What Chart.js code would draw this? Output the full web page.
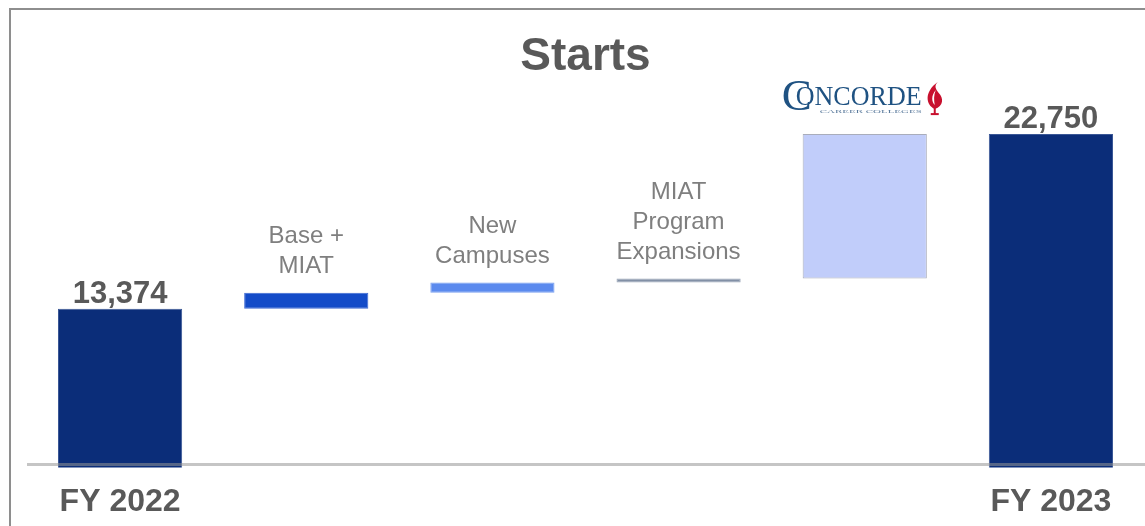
<!DOCTYPE html>
<html>
<head>
<meta charset="utf-8">
<title>Starts</title>
<script src="https://cdn.jsdelivr.net/npm/chart.js@4.4.0/dist/chart.umd.min.js"></script>
<style>
  html, body { margin: 0; padding: 0; background: #fff; overflow: hidden; }
  #wrap { position: relative; width: 1145px; height: 526px; overflow: hidden; }
  #frame { position: absolute; left: 9px; top: 8px; right: -10px; bottom: -10px;
           border-left: 2px solid #8e8e8e; border-top: 2px solid #8e8e8e; }
  #startsChart { position: absolute; left: 0; top: 0; }
</style>
</head>
<body>
<div id="wrap">
  <div id="frame"></div>
  <canvas id="startsChart" width="1145" height="544"></canvas>
</div>
<script>
// categories and values
const categories = ['FY 2022', 'Base + MIAT', 'New Campuses', 'MIAT Program Expansions', 'Concorde', 'FY 2023'];
const startTotal = 13374;
const changes = [860, 540, 215, 7761];
const endTotal = 22750;
const tickLabels = ['FY 2022', '', '', '', '', 'FY 2023'];
const valueLabels = ['13,374', '', '', '', '', '22,750'];
const barNotes = [[], ['Base +', 'MIAT'], ['New', 'Campuses'], ['MIAT', 'Program', 'Expansions'], [], []];

const barColors = ['#0b2d79', '#134bc8', '#5b8aee', '#8290a6', '#c1cdfa', '#0b2d79'];
const barBorders = ['#3a5796', '#3d68d2', '#7aa0f0', '#9aa6b8', '#a9adbb', '#3a5796'];

// build the floating ranges of the waterfall
const ranges = [[0, startTotal]];
let running = startTotal;
changes.forEach(c => {
    ranges.push([running, running + c]);
    running += c;
});
ranges.push([0, endTotal]);

function drawLogo(ctx, cx, ctop) {
    ctx.save();
    ctx.textAlign = 'left';
    ctx.textBaseline = 'alphabetic';
    ctx.fillStyle = '#1f5282';
    ctx.font = '45px "Liberation Serif", serif';
    ctx.fillText('C', cx - 83, ctop - 24);

    ctx.save();
    ctx.translate(cx - 69, ctop - 29);
    ctx.scale(0.93, 1);
    ctx.font = '28px "Liberation Serif", serif';
    ctx.fillText('ONCORDE', 0, 0);
    ctx.restore();

    ctx.save();
    ctx.font = '5px "Liberation Serif", serif';
    const sub = 'CAREER COLLEGES';
    const w = ctx.measureText(sub).width;
    ctx.translate(cx - 45, ctop - 21);
    ctx.scale(102 / w, 1);
    ctx.fillStyle = '#5a7a9c';
    ctx.fillText(sub, 0, 0);
    ctx.restore();

    // flame
    const fx = cx + 70;
    ctx.fillStyle = '#c8102e';
    ctx.beginPath();
    ctx.moveTo(fx + 3, ctop - 52);
    ctx.bezierCurveTo(fx - 11, ctop - 42, fx - 9, ctop - 29, fx, ctop - 25);
    ctx.bezierCurveTo(fx + 9, ctop - 28, fx + 9, ctop - 36, fx + 4, ctop - 41);
    ctx.bezierCurveTo(fx + 1, ctop - 45, fx - 1, ctop - 48, fx + 3, ctop - 52);
    ctx.fill();
    ctx.fillStyle = '#ffffff';
    ctx.beginPath();
    ctx.moveTo(fx + 1, ctop - 44);
    ctx.bezierCurveTo(fx - 4, ctop - 38, fx - 3, ctop - 32, fx, ctop - 29);
    ctx.bezierCurveTo(fx - 1, ctop - 34, fx - 1, ctop - 39, fx + 1, ctop - 44);
    ctx.fill();
    ctx.fillStyle = '#c8102e';
    ctx.fillRect(fx - 1, ctop - 26, 2, 6);
    ctx.fillRect(fx - 4, ctop - 21, 8, 2);
    ctx.restore();
}

const annotations = {
    id: 'annotations',
    afterDatasetsDraw(chart) {
        const ctx = chart.ctx;
        const area = chart.chartArea;
        const bars = chart.getDatasetMeta(0).data;

        // baseline drawn over the bars
        ctx.save();
        ctx.strokeStyle = 'rgba(150,150,150,0.55)';
        ctx.lineWidth = 3;
        ctx.beginPath();
        ctx.moveTo(area.left, area.bottom);
        ctx.lineTo(chart.width, area.bottom);
        ctx.stroke();

        ctx.textAlign = 'center';
        ctx.textBaseline = 'alphabetic';
        bars.forEach((bar, i) => {
            const top = Math.min(bar.y, bar.base);
            if (valueLabels[i]) {
                ctx.fillStyle = '#595959';
                ctx.font = 'bold 31px "Liberation Sans", Arial, sans-serif';
                ctx.fillText(valueLabels[i], bar.x, top - 6);
            }
            const lines = barNotes[i];
            if (lines.length) {
                ctx.fillStyle = '#7f7f7f';
                ctx.font = '24px "Liberation Sans", Arial, sans-serif';
                lines.forEach((line, k) => {
                    ctx.fillText(line, bar.x, top - 20 - (lines.length - 1 - k) * 30);
                });
            }
        });
        ctx.restore();

        // Concorde logo above the acquisition bar
        const cb = bars[4];
        drawLogo(ctx, cb.x, Math.min(cb.y, cb.base));
    }
};

const ctx = document.getElementById('startsChart').getContext('2d');
const startsChart = new Chart(ctx, {
    type: 'bar',
    data: {
        labels: categories,
        datasets: [{
            data: ranges,
            backgroundColor: barColors,
            borderColor: barBorders,
            borderWidth: 1,
            borderSkipped: false,
            barPercentage: 0.667,
            categoryPercentage: 1,
            clip: 3
        }]
    },
    options: {
        responsive: false,
        animation: false,
        layout: {
            padding: { left: 27, right: 1, top: 0, bottom: 5 }
        },
        plugins: {
            legend: { display: false },
            tooltip: { enabled: false },
            title: {
                display: true,
                text: 'Starts',
                color: '#595959',
                font: { family: '"Liberation Sans", Arial, sans-serif', size: 46, weight: 'bold' },
                padding: { top: 30, bottom: 7 }
            }
        },
        scales: {
            x: {
                grid: { display: false, drawTicks: false },
                border: { display: false },
                ticks: {
                    autoSkip: false,
                    maxRotation: 0,
                    padding: 18,
                    color: '#595959',
                    font: { family: '"Liberation Sans", Arial, sans-serif', size: 32, weight: 'bold' },
                    callback: (value, index) => tickLabels[index]
                }
            },
            y: {
                display: false,
                min: 5000,
                max: 25000
            }
        }
    },
    plugins: [annotations]
});
</script>
</body>
</html>
